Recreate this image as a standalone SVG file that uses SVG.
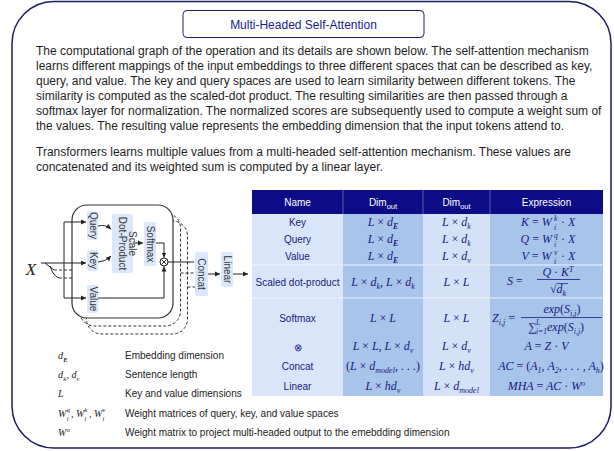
<svg xmlns="http://www.w3.org/2000/svg" width="614" height="451" viewBox="0 0 614 451">
<defs>
<style>
.p{font-family:"Liberation Sans",Arial,sans-serif;font-size:12px;fill:#1e1e1e}
.lg{font-family:"Liberation Sans",Arial,sans-serif;font-size:10px;fill:#222}
.lm{font-family:"Liberation Serif","Times New Roman",serif;font-style:italic;font-size:10px;fill:#222}
.ls{font-family:"Liberation Serif","Times New Roman",serif;font-style:italic;font-size:6.5px;fill:#222}
.bx{fill:#dbe7fa}
.bt{font-family:"Liberation Sans",Arial,sans-serif;font-size:10px;fill:#333;text-anchor:middle}
.ln{fill:none;stroke:#222;stroke-width:1}
.dl{fill:none;stroke:#333;stroke-width:1;stroke-dasharray:3 2}
.th{font-family:"Liberation Sans",Arial,sans-serif;font-size:10px;fill:#fff;text-anchor:middle}
.tn{font-family:"Liberation Sans",Arial,sans-serif;font-size:10px;fill:#1a1a80;text-anchor:middle}
.m{font-family:"Liberation Serif","Times New Roman",serif;font-style:italic;font-size:12px;fill:#1a1a80;text-anchor:middle}
.ms{font-family:"Liberation Serif","Times New Roman",serif;font-style:italic;font-size:12px;fill:#1a1a80}
.mss{font-family:"Liberation Serif","Times New Roman",serif;font-style:italic;font-size:7.5px;fill:#1a1a80}
.n{font-style:normal}
.s{font-size:8px}
</style>
<marker id="ah" markerWidth="6" markerHeight="6" refX="5" refY="3" orient="auto" markerUnits="userSpaceOnUse">
<path d="M0,0.6 L5,3 L0,5.4 z" fill="#222"/>
</marker>
</defs>

<rect x="12" y="1.5" width="599" height="446.5" rx="42" fill="#fff" stroke="#1c1c66" stroke-width="1.5"/>

<g id="title">
<rect x="183" y="10.5" width="241" height="27" rx="4" fill="#fff" stroke="#1c1c66" stroke-width="1"/>
<text x="303.5" y="28.5" text-anchor="middle" font-family="Liberation Sans, Arial, sans-serif" font-size="12" fill="#1a1a8c">Multi-Headed Self-Attention</text>
</g>

<g id="description">
<text class="p" x="36" y="55">The computational graph of the operation and its details are shown below. The self-attention mechanism</text>
<text class="p" x="36" y="70">learns different mappings of the input embeddings to three different spaces that can be described as key,</text>
<text class="p" x="36" y="85">query, and value. The key and query spaces are used to learn similarity between different tokens. The</text>
<text class="p" x="36" y="100">similarity is computed as the scaled-dot product. The resulting similarities are then passed through a</text>
<text class="p" x="36" y="115">softmax layer for normalization. The normalized scores are subsequently used to compute a weight sum of</text>
<text class="p" x="36" y="130">the values. The resulting value represents the embedding dimension that the input tokens attend to.</text>
<text class="p" x="36" y="156">Transformers learns multiple values from a multi-headed self-attention mechanism. These values are</text>
<text class="p" x="36" y="171">concatenated and its weighted sum is computed by a linear layer.</text>
</g>

<!-- computational graph -->
<g id="head3"><rect x="86.5" y="221" width="101" height="113" rx="15" fill="#fff" class="dl"/></g>
<g id="head2"><rect x="79.5" y="213" width="101" height="113" rx="15" fill="#fff" class="dl"/></g>
<g id="head1"><rect x="72" y="205" width="101" height="113" rx="15" fill="#fff" stroke="#333" stroke-width="1.2"/></g>

<g id="input-x"><text x="31" y="275" text-anchor="middle" font-family="Liberation Serif, Times New Roman, serif" font-style="italic" font-size="17" fill="#222">X</text></g>
<g id="query"><rect class="bx" x="87" y="211" width="11" height="29" rx="2"/><text class="bt" transform="translate(89.5,225.5) rotate(90)">Query</text></g>
<g id="key"><rect class="bx" x="87" y="250" width="11" height="21" rx="2"/><text class="bt" transform="translate(89.5,260.5) rotate(90)">Key</text></g>
<g id="value"><rect class="bx" x="87" y="285" width="11" height="28" rx="2"/><text class="bt" transform="translate(89.5,299) rotate(90)">Value</text></g>
<g id="scale-dot-product"><rect class="bx" x="112" y="214" width="21" height="59" rx="2"/><text class="bt" transform="translate(122.5,243.5) rotate(90)"><tspan x="0" y="-6">Scale</tspan><tspan x="0" y="4">Dot-Product</tspan></text></g>
<g id="softmax"><rect class="bx" x="144" y="222" width="12" height="44" rx="2"/><text class="bt" transform="translate(146.5,244) rotate(90)">Softmax</text></g>
<g id="matmul"><circle cx="164" cy="262" r="4" fill="#fff" stroke="#222" stroke-width="1"/><path d="M161.2,259.2 L166.8,264.8 M166.8,259.2 L161.2,264.8" stroke="#222" stroke-width="0.9"/></g>
<g id="concat"><rect class="bx" x="195" y="252" width="13" height="44" rx="2"/><text class="bt" transform="translate(198,274) rotate(90)">Concat</text></g>
<g id="linear"><rect class="bx" x="221" y="252" width="12" height="35" rx="2"/><text class="bt" transform="translate(223.5,269.5) rotate(90)">Linear</text></g>

<g id="connectors">
<path class="ln" d="M41,263 H86" marker-end="url(#ah)"/>
<path class="ln" d="M64,222 V298"/>
<path class="ln" d="M64,222 H86" marker-end="url(#ah)"/>
<path class="ln" d="M64,298 H86" marker-end="url(#ah)"/>
<path class="ln" d="M45,263 L54,270"/>
<path class="dl" d="M54,270 H72"/>
<path class="ln" d="M50,266 Q53,276 59,278"/>
<path class="dl" d="M59,278 H72"/>
<path class="ln" d="M98,226 Q105,224 111,229" marker-end="url(#ah)"/>
<path class="ln" d="M98,262 Q105,262 111,256" marker-end="url(#ah)"/>
<path class="ln" d="M133,243 H143" marker-end="url(#ah)"/>
<path class="ln" d="M156,243 H164 V257.5" marker-end="url(#ah)"/>
<path class="ln" d="M98,298 H164 V266.5" marker-end="url(#ah)"/>
<path class="ln" d="M168,262 H194"/>
<path class="dl" d="M180.5,273 H195"/>
<path class="dl" d="M187.5,287 H195"/>
<path class="ln" d="M208,274 H220" marker-end="url(#ah)"/>
<path class="ln" d="M233,274 H248" marker-end="url(#ah)"/>
</g>

<!-- legend -->
<g id="legend">
<text class="lm" x="58" y="359">d</text><text class="ls" x="63.2" y="361.5" font-weight="bold">E</text>
<text class="lm" x="58" y="378">d</text><text class="ls" x="63.2" y="380.5">k</text><text class="lm" x="66.5" y="378">, d</text><text class="ls" x="76.5" y="380.5">v</text>
<text class="lm" x="58" y="397">L</text>
<text class="lm" x="58" y="417">W</text><text class="ls" x="66.8" y="412">q</text><text class="ls" x="66.8" y="421">i</text>
<text class="lm" x="71" y="417">, W</text><text class="ls" x="84.6" y="412">k</text><text class="ls" x="84.6" y="421">i</text>
<text class="lm" x="89" y="417">, W</text><text class="ls" x="102.6" y="412">v</text><text class="ls" x="102.6" y="421">i</text>
<text class="lm" x="58" y="436">W</text><text class="ls" x="66.8" y="431.5">o</text>
<text class="lg" x="125" y="359">Embedding dimension</text>
<text class="lg" x="125" y="378">Sentence length</text>
<text class="lg" x="125" y="397">Key and value dimensions</text>
<text class="lg" x="125" y="417">Weight matrices of query, key, and value spaces</text>
<text class="lg" x="125" y="436">Weight matrix to project multi-headed output to the emebdding dimension</text>
</g>

<!-- table -->
<g id="table">
<rect x="252" y="214" width="91" height="182" fill="#d9e6f9"/>
<rect x="343" y="214" width="80" height="182" fill="#a9c4eb"/>
<rect x="423" y="214" width="67" height="182" fill="#d3e2f7"/>
<rect x="490" y="214" width="113" height="182" fill="#a9c4eb"/>
<rect x="252" y="190" width="351" height="24" fill="#0c0c86"/>
<path d="M343,190 V214 M423,190 V214 M490,190 V214" stroke="#5a5ab0" stroke-width="1"/>
<path d="M252,265 H603 M252,298 H603" stroke="#eef4fd" stroke-width="1"/>
<text class="th" x="297.5" y="206">Name</text>
<text class="th" x="383" y="206">Dim<tspan font-size="7.5" dy="3">out</tspan></text>
<text class="th" x="456.5" y="206">Dim<tspan font-size="7.5" dy="3">out</tspan></text>
<text class="th" x="546.5" y="206">Expression</text>

<text class="tn" x="297.5" y="226">Key</text>
<text class="tn" x="297.5" y="243">Query</text>
<text class="tn" x="297.5" y="260">Value</text>
<text class="tn" x="297.5" y="286">Scaled dot-product</text>
<text class="tn" x="297.5" y="322">Softmax</text>
<text class="tn" x="297.5" y="351" font-size="13">⊗</text>
<text class="tn" x="297.5" y="370">Concat</text>
<text class="tn" x="297.5" y="390">Linear</text>

<text class="m" x="383" y="226">L <tspan class="n">×</tspan> d<tspan class="s" dy="2.5" font-weight="bold">E</tspan></text>
<text class="m" x="383" y="243">L <tspan class="n">×</tspan> d<tspan class="s" dy="2.5" font-weight="bold">E</tspan></text>
<text class="m" x="383" y="260">L <tspan class="n">×</tspan> d<tspan class="s" dy="2.5" font-weight="bold">E</tspan></text>
<text class="m" x="383" y="286">L <tspan class="n">×</tspan> d<tspan class="s" dy="2.5">k</tspan><tspan dy="-2.5">, L </tspan><tspan class="n">×</tspan> d<tspan class="s" dy="2.5">k</tspan></text>
<text class="m" x="383" y="322">L <tspan class="n">×</tspan> L</text>
<text class="m" x="383" y="350">L <tspan class="n">×</tspan> L, L <tspan class="n">×</tspan> d<tspan class="s" dy="2.5">v</tspan></text>
<text class="m" x="383" y="370"><tspan class="n">(</tspan>L <tspan class="n">×</tspan> d<tspan class="s" dy="2.5">model</tspan><tspan dy="-2.5">, . . .</tspan><tspan class="n">)</tspan></text>
<text class="m" x="383" y="390">L <tspan class="n">×</tspan> hd<tspan class="s" dy="2.5">v</tspan></text>

<text class="m" x="456.5" y="226">L <tspan class="n">×</tspan> d<tspan class="s" dy="2.5">k</tspan></text>
<text class="m" x="456.5" y="243">L <tspan class="n">×</tspan> d<tspan class="s" dy="2.5">k</tspan></text>
<text class="m" x="456.5" y="260">L <tspan class="n">×</tspan> d<tspan class="s" dy="2.5">v</tspan></text>
<text class="m" x="456.5" y="286">L <tspan class="n">×</tspan> L</text>
<text class="m" x="456.5" y="322">L <tspan class="n">×</tspan> L</text>
<text class="m" x="456.5" y="350">L <tspan class="n">×</tspan> d<tspan class="s" dy="2.5">v</tspan></text>
<text class="m" x="456.5" y="370">L <tspan class="n">×</tspan> hd<tspan class="s" dy="2.5">v</tspan></text>
<text class="m" x="456.5" y="390">L <tspan class="n">×</tspan> d<tspan class="s" dy="2.5">model</tspan></text>

<text class="ms" x="521" y="226">K <tspan class="n">=</tspan> W</text><text class="mss" x="554" y="221">k</text><text class="mss" x="554" y="230">i</text><text class="ms" x="561" y="226"><tspan class="n">·</tspan> X</text>
<text class="ms" x="520.5" y="243">Q <tspan class="n">=</tspan> W</text><text class="mss" x="554" y="238">q</text><text class="mss" x="554" y="247">i</text><text class="ms" x="561" y="243"><tspan class="n">·</tspan> X</text>
<text class="ms" x="521.5" y="260">V <tspan class="n">=</tspan> W</text><text class="mss" x="554" y="255">v</text><text class="mss" x="554" y="264">i</text><text class="ms" x="561" y="260"><tspan class="n">·</tspan> X</text>

<text class="ms" x="507" y="285">S <tspan class="n">=</tspan></text>
<text class="m" x="558" y="276">Q <tspan class="n">·</tspan> K<tspan class="s" dy="-4.5">T</tspan></text>
<path d="M537,279.5 H580" stroke="#1a1a80" stroke-width="0.8"/>
<text class="m" x="558" y="293"><tspan class="n">√</tspan>d<tspan class="s" dy="2.5">k</tspan></text>
<path d="M557,283.5 H568" stroke="#1a1a80" stroke-width="0.7"/>

<text class="ms" x="492" y="322">Z<tspan class="s" dy="2.5">i,j</tspan><tspan dy="-2.5"> </tspan><tspan class="n">=</tspan></text>
<text class="m" x="562" y="313">exp<tspan class="n">(</tspan>S<tspan class="s" dy="2.5">i,j</tspan><tspan class="n" dy="-2.5">)</tspan></text>
<path d="M521,317.5 H602" stroke="#1a1a80" stroke-width="0.8"/>
<text class="ms" x="528" y="331"><tspan class="n">∑</tspan></text><text class="mss" x="536" y="325">L</text><text class="mss" x="536" y="334">i=1</text><text class="ms" x="547" y="331">exp<tspan class="n">(</tspan>S<tspan class="s" dy="2.5">i,j</tspan><tspan class="n" dy="-2.5">)</tspan></text>

<text class="m" x="546.5" y="350" font-size="10.5">A <tspan class="n">=</tspan> Z <tspan class="n">·</tspan> V</text>
<text class="m" x="551" y="370" font-size="10.5">AC <tspan class="n">=</tspan> <tspan class="n">(</tspan>A<tspan class="s" dy="2.5">1</tspan><tspan dy="-2.5">, A</tspan><tspan class="s" dy="2.5">2</tspan><tspan dy="-2.5">, . . . , A</tspan><tspan class="s" dy="2.5">h</tspan><tspan class="n" dy="-2.5">)</tspan></text>
<text class="m" x="546.5" y="390" font-size="10.5">MHA <tspan class="n">=</tspan> AC <tspan class="n">·</tspan> W<tspan class="s" dy="-4">o</tspan></text>
</g>
</svg>
